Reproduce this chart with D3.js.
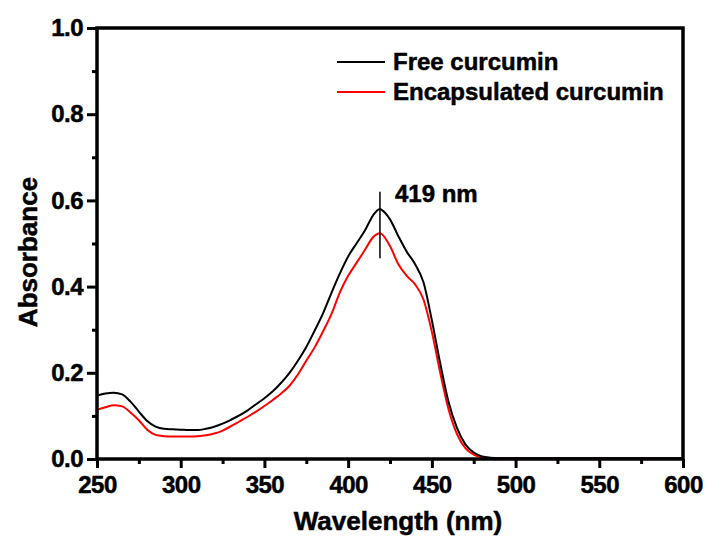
<!DOCTYPE html>
<html>
<head>
<meta charset="utf-8">
<script src="https://cdn.jsdelivr.net/npm/d3@7"></script>
<style>
  html, body { margin: 0; padding: 0; background: #fff; }
  svg { display: block; }
  text { font-family: "Liberation Sans", Arial, sans-serif; font-weight: bold; fill: #000; stroke: #000; stroke-width: 0.5px; }
</style>
</head>
<body>
<svg id="chart" width="708" height="536"></svg>
<script>
// ---- Data ----
const wavelengths = [250,255,260,265,270,275,280,285,290,295,300,305,310,315,320,325,330,335,340,345,350,355,360,365,370,375,380,385,390,395,400,405,410,415,419,420,425,430,435,440,445,450,455,460,465,470,475,480,485,490,495,500,520,540,560,580,600];
const freeCurcumin = [0.147,0.152,0.154,0.150,0.133,0.110,0.088,0.075,0.070,0.069,0.068,0.067,0.067,0.070,0.075,0.082,0.091,0.101,0.113,0.127,0.141,0.157,0.177,0.200,0.228,0.260,0.298,0.338,0.385,0.430,0.470,0.500,0.530,0.566,0.580,0.578,0.556,0.517,0.481,0.452,0.410,0.322,0.222,0.132,0.072,0.034,0.015,0.006,0.003,0.002,0.002,0.002,0.002,0.002,0.002,0.002,0.002];
const encapsulatedCurcumin = [0.114,0.120,0.125,0.122,0.108,0.090,0.068,0.056,0.053,0.052,0.052,0.052,0.053,0.055,0.059,0.066,0.076,0.087,0.098,0.110,0.123,0.137,0.152,0.170,0.196,0.228,0.259,0.296,0.336,0.386,0.425,0.455,0.485,0.515,0.524,0.522,0.494,0.452,0.425,0.405,0.370,0.295,0.200,0.115,0.058,0.025,0.010,0.004,0.002,0.001,0.001,0.001,0.001,0.001,0.001,0.001,0.001];
const xTicks = [250,300,350,400,450,500,550,600];
const xMinorTicks = [275,325,375,425,475,525,575];
const yTicks = [0.0,0.2,0.4,0.6,0.8,1.0];
const yMinorTicks = [0.1,0.3,0.5,0.7,0.9];
const seriesNames = ["Free curcumin","Encapsulated curcumin"];
const seriesColors = ["#000000","#ff0000"];
const peakWavelength = 419;
const peakMarkerRange = [0.466, 0.62];
const peakLabel = "419 nm";

// ---- Layout ----
const svg = d3.select("#chart");
const x = d3.scaleLinear().domain([250,600]).range([97,683]);
const y = d3.scaleLinear().domain([0,1]).range([459,28]);

function styleAxis(g){
  g.select(".domain").remove();
  g.selectAll(".tick line").attr("stroke","#000").attr("stroke-width",3);
  g.selectAll(".tick text").style("font-size","24px").style("font-weight","bold")
    .style("font-family","'Liberation Sans', Arial, sans-serif").attr("fill","#000")
    .style("letter-spacing","-0.5px");
}
const xAxis = svg.append("g").attr("transform","translate(0,459)")
  .call(d3.axisBottom(x).tickValues(xTicks).tickFormat(d3.format("d")).tickSize(9).tickPadding(8));
styleAxis(xAxis);
const xMinor = svg.append("g").attr("transform","translate(0,459)")
  .call(d3.axisBottom(x).tickValues(xMinorTicks).tickFormat("").tickSize(5));
styleAxis(xMinor);

const yAxis = svg.append("g").attr("transform","translate(97,0)")
  .call(d3.axisLeft(y).tickValues(yTicks).tickFormat(d3.format(".1f")).tickSize(10).tickPadding(4));
styleAxis(yAxis);
const yMinor = svg.append("g").attr("transform","translate(97,0)")
  .call(d3.axisLeft(y).tickValues(yMinorTicks).tickFormat("").tickSize(5));
styleAxis(yMinor);

// lines
const line = d3.line().x((d,i)=>x(wavelengths[i])).y(d=>y(d)).curve(d3.curveMonotoneX);
svg.append("path").datum(encapsulatedCurcumin).attr("d",line)
  .attr("fill","none").attr("stroke",seriesColors[1]).attr("stroke-width",2);
svg.append("path").datum(freeCurcumin).attr("d",line)
  .attr("fill","none").attr("stroke",seriesColors[0]).attr("stroke-width",2);

// frame
svg.append("rect").attr("x",x(250)).attr("y",y(1)).attr("width",x(600)-x(250)).attr("height",y(0)-y(1))
  .attr("fill","none").attr("stroke","#000").attr("stroke-width",3.5);

// peak marker
svg.append("line").attr("x1",x(peakWavelength)).attr("x2",x(peakWavelength))
  .attr("y1",y(peakMarkerRange[0])).attr("y2",y(peakMarkerRange[1]))
  .attr("stroke","#000").attr("stroke-width",1.5);
svg.append("text").attr("x",395).attr("y",202).style("font-size","24px").text(peakLabel);

// legend
seriesNames.forEach((name,i)=>{
  const ly = 62 + i*30;
  svg.append("line").attr("x1",337).attr("x2",385).attr("y1",ly).attr("y2",ly)
    .attr("stroke",seriesColors[i]).attr("stroke-width",2);
  svg.append("text").attr("x",393).attr("y",ly+8).style("font-size","24px").text(name);
});

// axis titles
svg.append("text").attr("x",398).attr("y",530).attr("text-anchor","middle")
  .style("font-size","26px").text("Wavelength (nm)");
svg.append("text").attr("transform","translate(37,252) rotate(-90)").attr("text-anchor","middle")
  .style("font-size","26px").text("Absorbance");
</script>
</body>
</html>
